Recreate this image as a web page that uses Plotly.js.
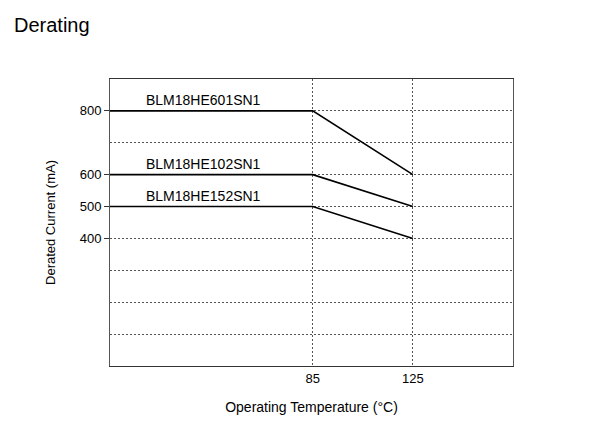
<!DOCTYPE html>
<html>
<head>
<meta charset="utf-8">
<script src="https://cdn.plot.ly/plotly-3.0.1.min.js"></script>
<style>html,body{margin:0;padding:0;background:#fff;}#chart{width:592px;height:444px;}</style>
</head>
<body>
<div id="chart"></div>
<script>
// Data
const temps = [4, 85, 125];
const seriesNames = ["BLM18HE601SN1", "BLM18HE102SN1", "BLM18HE152SN1"];
const current601 = [800, 800, 600];
const current102 = [600, 600, 500];
const current152 = [500, 500, 400];
const yTickVals = [400, 500, 600, 800];
const yGridVals = [100, 200, 300, 400, 500, 600, 700, 800];
const xTickVals = [85, 125];

const series = [current601, current102, current152];
const FONT = "Liberation Sans, Arial, Helvetica, sans-serif";
const GRID_DASH = "2px,2px";

const traces = series.map((vals, i) => ({
  x: temps, y: vals, name: seriesNames[i], type: "scatter", mode: "lines",
  line: {color: "#000", width: 1.6}, hoverinfo: "skip", cliponaxis: false
}));

const annotations = series.map((vals, i) => ({
  x: 17.6, y: vals[0], xref: "x", yref: "y", text: seriesNames[i],
  showarrow: false, xanchor: "left", yanchor: "middle", yshift: 11,
  font: {family: FONT, size: 14, color: "#000"}
}));

const layout = {
  width: 592, height: 444,
  margin: {l: 110, r: 79, t: 79, b: 78},
  paper_bgcolor: "#fff", plot_bgcolor: "#fff",
  showlegend: false,
  font: {family: FONT, color: "#000"},
  title: {text: "Derating", x: 14 / 592, xref: "container", xanchor: "left", yref: "container", y: 0.944, yanchor: "middle",
          font: {family: FONT, size: 20, color: "#000"}},
  xaxis: {
    range: [4, 165], tickmode: "array", tickvals: xTickVals,
    ticks: "", showgrid: true, gridcolor: "#555", griddash: GRID_DASH, gridwidth: 1,
    showline: true, linecolor: "#333", linewidth: 1, mirror: true, zeroline: false,
    tickfont: {family: FONT, size: 13, color: "#000"},
    title: {text: "Operating Temperature (°C)", font: {family: FONT, size: 14, color: "#000"}, standoff: 17}
  },
  yaxis: {
    range: [0, 900], tickmode: "array", tickvals: yTickVals,
    ticks: "outside", ticklen: 5, tickcolor: "#333",
    showgrid: true, gridcolor: "#555", griddash: GRID_DASH, gridwidth: 1,
    minor: {tickmode: "array", tickvals: yGridVals, showgrid: true, gridcolor: "#555", griddash: GRID_DASH, gridwidth: 1, ticks: ""},
    showline: true, linecolor: "#555", linewidth: 1, mirror: true, zeroline: false,
    tickfont: {family: FONT, size: 13, color: "#000"},
    title: {text: "Derated Current (mA)", font: {family: FONT, size: 13, color: "#000"}, standoff: 21}
  },
  annotations: annotations
};

Plotly.newPlot("chart", traces, layout, {staticPlot: true, displayModeBar: false});
</script>
</body>
</html>
